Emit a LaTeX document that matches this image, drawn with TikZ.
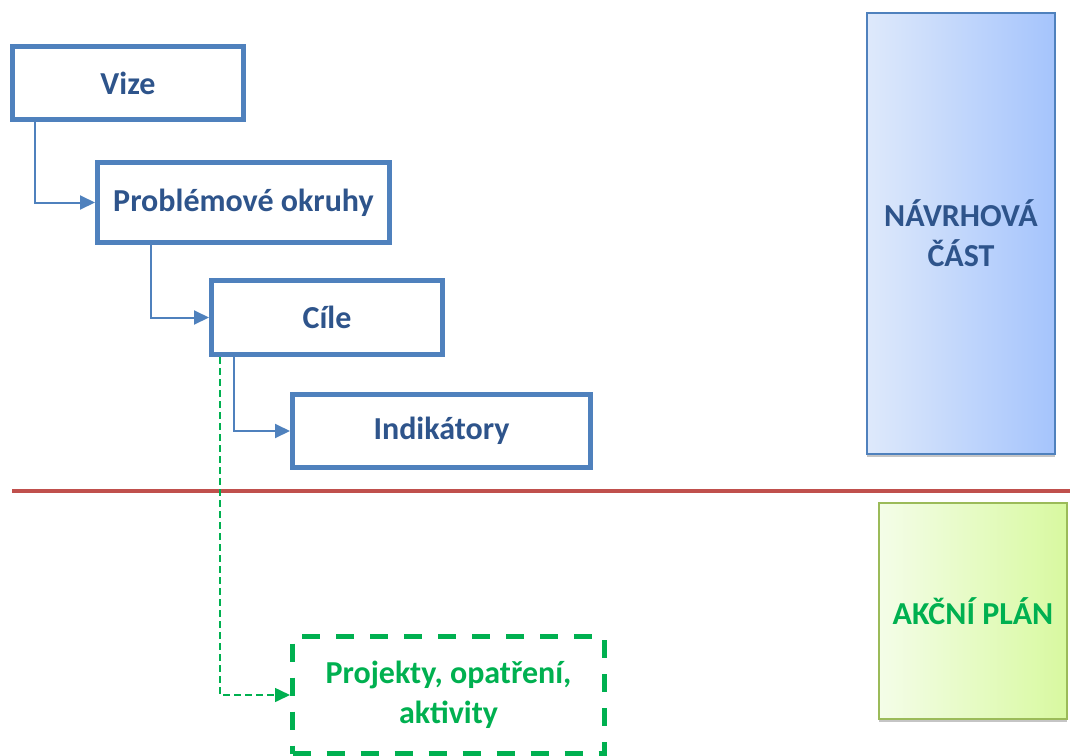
\documentclass[tikz,border=0pt]{standalone}
\usepackage{fontspec}
\setmainfont{Carlito}
\usetikzlibrary{shapes,arrows.meta,positioning,shadows}
\definecolor{boxblue}{RGB}{79,129,189}
\definecolor{txtblue}{RGB}{46,84,139}
\definecolor{actgreen}{RGB}{0,176,80}
\definecolor{sepred}{RGB}{192,80,77}
\definecolor{olivegreen}{RGB}{155,187,89}
\definecolor{navleft}{RGB}{222,233,251}
\definecolor{navright}{RGB}{165,196,252}
\definecolor{akleft}{RGB}{244,253,232}
\definecolor{akright}{RGB}{216,249,160}
\def\Navrh{NÁVRHOVÁ\\ČÁST}
\def\Akce{AKČNÍ PLÁN}

\begin{document}
\begin{tikzpicture}[x=1pt,y=-1pt,% sizes in pixels of the page, y runs downwards
				every node/.style={
					align=center,  		% "\\" breaks the line
					inner sep=0pt,
					font=\fontsize{32}{40}\selectfont\bfseries
				},
				stage/.style={rectangle,draw=boxblue,line width=5pt,fill=white,text=txtblue},
				part/.style={rectangle,line width=1.6pt,
					drop shadow={shadow xshift=0pt,shadow yshift=-2.5pt,fill=black!45}},
				elbow/.style={to path={|- (\tikztotarget) \tikztonodes}},
				every edge/.style={draw,line width=2pt,boxblue},
				>={Triangle[length=15pt,width=14pt]}
			]
			\useasboundingbox (0,0) rectangle (1070,755);
			% left column of stages
			\node[stage,minimum width=231pt,minimum height=73pt](vize) at (128,83){Vize};
			\node[stage,minimum width=292pt,minimum height=80pt](okruhy) at (243.5,202.5){Problémové okruhy};
			\node[stage,minimum width=231pt,minimum height=74pt](cile) at (327,317.5){Cíle};
			\node[stage,minimum width=298pt,minimum height=73pt](indik) at (441.5,431){Indikátory};
			\node[rectangle,draw=actgreen,line width=5pt,dash pattern=on 18pt off 16pt,
				text=actgreen,minimum width=312pt,minimum height=117pt](projekty) at (448.5,695)
				{Projekty, opatření,\\aktivity};
			% right column
			\node[part,draw=boxblue,left color=navleft,right color=navright,text=txtblue,
				minimum width=188pt,minimum height=441pt](navrh) at (961,233.5){\Navrh};
			\node[part,draw=olivegreen,left color=akleft,right color=akright,text=actgreen,
				minimum width=188pt,minimum height=216pt](akce) at (973,611){\Akce};
			% separating line
			\coordinate (s1) at (12,491);
			\coordinate (s2) at (1070,491);
			\draw[sepred,line width=4pt] (s1) -- (s2);
			% start points of the connectors
			\coordinate (k1) at ([xshift=25pt]vize.south west);
			\coordinate (k2) at ([xshift=56pt]okruhy.south west);
			\coordinate (k3) at ([xshift=25pt]cile.south west);
			\coordinate (k4) at ([xshift=11pt]cile.south west);
			\path[->]
			(k1)edge [elbow] (okruhy.west)
			(k2)edge [elbow] (cile.west)
			(k3)edge [elbow] (indik.west)
			(k4)edge [elbow,actgreen,line width=1.6pt,dash pattern=on 7pt off 4pt] (projekty.west)
			;
		\end{tikzpicture}
\end{document}
